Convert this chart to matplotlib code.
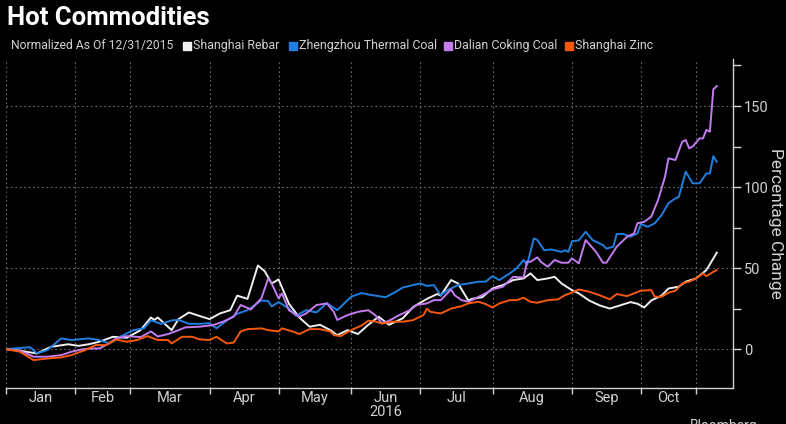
import matplotlib
matplotlib.use("Agg")
import matplotlib.pyplot as plt
from matplotlib.patches import Rectangle
from matplotlib.ticker import FixedLocator, NullFormatter

# trading-day index (0 = 12/31/2015) and % change
rebar_days = [0, 4, 9, 13, 18, 21, 24, 27, 31, 35, 39, 42, 43, 44, 48, 50, 53, 56, 59, 62,
              65, 67, 70, 73, 75, 77, 79, 82, 85, 88, 91, 94, 96, 99, 102, 105, 108, 111, 115,
              118, 122, 125, 126, 129, 131, 134, 135, 138, 141, 144, 147, 150, 152, 154, 157,
              159, 161, 164, 166, 169, 172, 175, 178, 181, 183, 185, 187, 190, 192, 195, 197,
              200, 203, 206]
rebar = [0, -1, -2.7, 1.4, 3, 2, 3, 4.5, 7.6, 7, 11.7, 19.5, 18, 19.5, 11.7, 18.5, 22.6, 20.5,
         18.5, 22, 24, 33, 31, 51.6, 48, 40.5, 43, 28, 19.5, 13.8, 15, 11.7, 8.6, 11.7, 9.3,
         15, 20, 15, 19, 26, 31, 34, 33, 42.6, 40.5, 30, 31, 32, 37.4, 39.5, 42.6, 43.6, 46.7,
         42.6, 43.6, 44.6, 40.5, 36.4, 34.4, 30, 27, 25, 27, 29, 28, 25.7, 30, 33, 37.4, 38.5,
         41.6, 43.6, 48.8, 59.5]

coal_days = [0, 7, 9, 12, 16, 19, 24, 27, 30, 33, 37, 40, 42, 45, 48, 50, 53, 56, 59, 61, 64,
             67, 70, 74, 76, 77, 79, 82, 84, 87, 90, 93, 96, 100, 103, 106, 108, 110, 113, 115,
             118, 120, 122, 124, 126, 128, 131, 134, 137, 139, 141, 143, 146, 148, 150, 151,
             153, 154, 156, 158, 161, 162, 163, 164, 166, 168, 170, 173, 174, 176, 177, 179,
             181, 183, 184, 186, 188, 190, 192, 194, 195, 197, 199, 201, 203, 204, 205, 206]
coal = [0, 1.2, -2.7, -0.6, 6.6, 5.6, 6.6, 5.6, 3.5, 7.6, 11.7, 12.8, 17.7, 15.6, 17.7, 18,
        15.6, 15.6, 16, 12.8, 17.7, 21.8, 24, 30, 29.6, 26.3, 29, 25, 20.6, 24, 22.6, 28.4, 24,
        32.3, 34.6, 33.3, 32.7, 32, 35.4, 38, 39.5, 40.5, 39, 39.5, 33.3, 36.4, 39.5, 40.5,
        41.6, 41.6, 45, 42.6, 46.7, 49.8, 55, 51.9, 68.3, 67.3, 61, 61.5, 60, 61, 60, 66.5,
        67.1, 72.4, 67.3, 64.2, 62, 63.2, 71, 71, 69.3, 71.4, 77.2, 75.5, 77.6, 82.7, 90, 93,
        94, 109.5, 102.3, 102.3, 108.4, 108.4, 119, 115.6]

coking_days = [0, 4, 8, 12, 16, 19, 22, 25, 27, 29, 32, 35, 39, 42, 44, 47, 50, 52, 56, 60,
               63, 66, 68, 71, 74, 76, 77, 79, 80, 82, 85, 87, 90, 93, 95, 96, 99, 102, 105,
               107, 109, 111, 114, 117, 119, 122, 124, 126, 129, 130, 132, 134, 135, 137, 139,
               141, 144, 147, 150, 151, 152, 154, 155, 157, 159, 161, 163, 164, 166, 168, 171,
               173, 174, 177, 179, 180, 182, 183, 185, 187, 189, 191, 192, 194, 196, 197, 198,
               199, 201, 202, 203, 204, 205, 206]
coking = [0, -1, -4.7, -4.7, -3.7, -1.6, -0.2, 0.4, 0.4, 2.5, 6.6, 8, 7.4, 10.9, 7.8, 9.3,
          11.7, 13.4, 13.8, 14.8, 17, 20, 27.2, 24.5, 31.3, 43.6, 40.5, 31.3, 34.4, 24, 20, 22,
          27.2, 28.2, 23, 18, 21, 23, 24, 21, 15.8, 17.5, 21, 24, 27.2, 28.2, 30.2, 30.2, 36.8,
          33.3, 30.2, 29.2, 30.2, 32.3, 34.4, 36.8, 38.5, 44.6, 44.2, 53.9, 53.9, 56.6, 53.9,
          50.8, 55, 53.3, 53.3, 56, 52.9, 67.3, 60, 53.3, 53.3, 63.2, 67.3, 69.3, 71.4, 77.6,
          78.6, 81.7, 92, 106.4, 117.7, 116.7, 128, 129, 123.9, 125, 130, 130, 135.2, 134.2,
          160.3, 162.3]

zinc_days = [0, 4, 8, 12, 16, 19, 23, 26, 29, 32, 35, 38, 41, 44, 47, 48, 51, 54, 56, 59, 61,
             64, 66, 68, 70, 74, 76, 79, 80, 83, 85, 88, 91, 94, 95, 97, 100, 103, 105, 107,
             109, 112, 115, 118, 121, 122, 123, 126, 129, 132, 134, 137, 139, 141, 143, 146,
             148, 150, 152, 154, 157, 160, 162, 163, 166, 169, 172, 175, 177, 180, 182, 184,
             187, 188, 190, 192, 194, 196, 198, 200, 202, 203, 205, 206]
zinc = [0, -1.6, -6.8, -5.8, -5.1, -3.7, -0.6, 2.5, 2.5, 5.9, 4.5, 5.6, 8, 5.6, 5.6, 3.5, 7.6,
        7.6, 6, 5.6, 7.6, 3.5, 4, 10.9, 12.3, 12.8, 11.7, 10.9, 12.8, 10.9, 9.3, 12.3, 12.3,
        10.9, 8.6, 8, 11.7, 14.5, 17.5, 17, 15.8, 16.9, 16.9, 17.9, 21, 25, 23, 22, 25, 26.5,
        28.2, 29.2, 27.8, 25.7, 28.2, 30.2, 30.2, 31.7, 29.2, 28.6, 30.2, 30.7, 33.3, 34, 36.8,
        35.4, 33.3, 30.7, 34, 32.7, 34.4, 36, 36.4, 32.3, 32.3, 34.8, 36, 40.5, 41.6, 43.6,
        46.7, 45, 47.7, 48.8]

# month boundaries in trading days and labels
month_starts = [0, 20, 36, 59, 79, 100, 120, 141, 164, 184, 200]
month_names = ["Jan", "Feb", "Mar", "Apr", "May", "Jun", "Jul", "Aug", "Sep", "Oct"]

series = [
    ("Shanghai Rebar", rebar_days, rebar, "#f0f0f0"),
    ("Zhengzhou Thermal Coal", coal_days, coal, "#1f7fe0"),
    ("Dalian Coking Coal", coking_days, coking, "#c47cf0"),
    ("Shanghai Zinc", zinc_days, zinc, "#f5590c"),
]

txt = "#d2d2d2"
plt.rcParams["font.family"] = ["Roboto", "DejaVu Sans"]

fig = plt.figure(figsize=(7.86, 4.24), dpi=100, facecolor="black")
ax = fig.add_axes([6 / 786, 1 - 388 / 424, 727 / 786, 329 / 424])
ax.set_facecolor("black")

for name, d, v, c in series:
    ax.plot(d, v, color=c, lw=1.4, solid_joinstyle="round")

ax.set_xlim(0, 210.7)
ax.set_ylim(-24, 179)

# y axis on the right
ax.yaxis.tick_right()
ax.set_yticks([0, 50, 100, 150])
ax.yaxis.set_minor_locator(FixedLocator([25, 75, 125, 175]))
ax.tick_params(axis="y", which="both", colors=txt, length=6, width=1, labelsize=10.5, pad=2)
fig.text(775 / 786, 1 - 223 / 424, "Percentage Change", color=txt, fontsize=12.5,
         rotation=270, ha="center", va="center")

# x axis: ticks at month boundaries, labels centered in each month
ax.set_xticks(month_starts)
ax.xaxis.set_major_formatter(NullFormatter())
ax.set_xticks([(month_starts[i] + month_starts[i + 1]) / 2 for i in range(len(month_names))],
              minor=True)
ax.set_xticklabels(month_names, minor=True)
ax.tick_params(axis="x", which="major", colors=txt, length=4, width=1)
ax.tick_params(axis="x", which="minor", length=0, labelcolor=txt, labelsize=10.5, pad=2)
ax.text((month_starts[5] + month_starts[6]) / 2, -24 / 329, "2016",
        transform=ax.get_xaxis_transform(), ha="center", va="center", color=txt, fontsize=10.5)

ax.grid(True, which="major", color="#6a6a6a", linestyle=(0, (1.5, 2.5)), linewidth=0.8)
for s in ["top", "left"]:
    ax.spines[s].set_visible(False)
for s in ["bottom", "right"]:
    ax.spines[s].set_color(txt)
    ax.spines[s].set_linewidth(1)

# title and legend row
fig.text(7 / 786, 1 - 18 / 424, "Hot Commodities", color="white", fontsize=18.5,
         fontweight="bold", va="center", ha="left")
fig.text(11 / 786, 1 - 46 / 424, "Normalized As Of 12/31/2015", color=txt, fontsize=8.7,
         va="center", ha="left")
legend_x = [183, 289, 444, 565]
for (name, d, v, c), lx in zip(series, legend_x):
    fig.patches.append(Rectangle((lx / 786, 1 - 50 / 424), 8 / 786, 8 / 424, color=c,
                                 transform=fig.transFigure, figure=fig))
    fig.text((lx + 10) / 786, 1 - 46 / 424, name, color=txt, fontsize=8.9, va="center",
             ha="left")

fig.text(690 / 786, 1 - 419 / 424, "Bloomberg", color=txt, fontsize=10, va="top", ha="left")

fig.savefig("out.png", dpi=100, facecolor="black")
